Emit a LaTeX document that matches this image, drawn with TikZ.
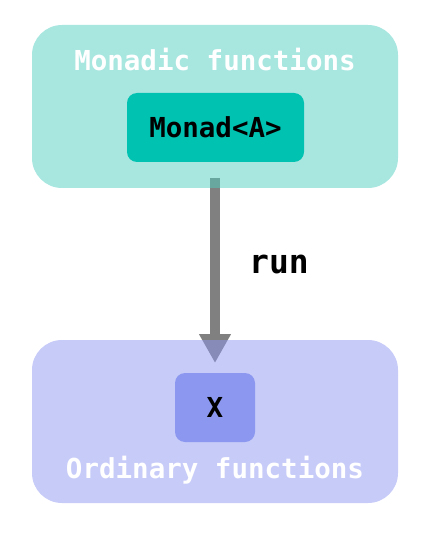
\documentclass[tikz,border=0pt]{standalone}
\usepackage{fontspec}
\setmonofont{DejaVu Sans Mono}
\usetikzlibrary{arrows.meta}
\definecolor{tealdark}{RGB}{0,194,176}
\definecolor{tealbg}{RGB}{81,205,193}
\definecolor{lavdark}{RGB}{140,152,240}
\definecolor{lavbg}{RGB}{143,151,241}
\definecolor{arrowgray}{RGB}{128,128,128}
\tikzset{
  container/.style={rounded corners=30pt, fill opacity=0.5, draw=none, inner sep=0pt},
  innerbox/.style={rounded corners=10pt, draw=none, inner sep=0pt, font=\ttfamily\bfseries\fontsize{27.5}{30}\selectfont, text=black},
  title/.style={font=\ttfamily\bfseries\fontsize{27.5}{30}\selectfont, text=white, inner sep=0pt},
  runarrow/.style={draw=arrowgray, line width=10pt, -{Triangle[width=30pt,length=29pt]}},
  lbl/.style={font=\ttfamily\bfseries\fontsize{33}{36}\selectfont, text=black, inner sep=0pt}
}
\begin{document}
\begin{tikzpicture}[x=1pt,y=-1pt]
\useasboundingbox (0,0) rectangle (434,537);
% arrow drawn beneath the translucent containers
\coordinate (start) at (215,178);
\coordinate (tip) at (215,363);
\draw[runarrow] (start) -- (tip);
\node[lbl, anchor=west] (run) at (249,264) {run};
% containers
\node[container, fill=tealbg, minimum width=366pt, minimum height=163pt] (topc) at (215,106.5) {};
\node[container, fill=lavbg, minimum width=366pt, minimum height=163pt] (botc) at (215,421.5) {};
% inner boxes
\node[innerbox, fill=tealdark, minimum width=177pt, minimum height=69pt] (monad) at (215.5,127.5) {Monad<A>};
\node[innerbox, fill=lavdark, minimum width=80pt, minimum height=69pt] (x) at (215,407.5) {X};
% titles
\node[title] (mtitle) at (215,60) {Monadic functions};
\node[title] (otitle) at (215,470) {Ordinary functions};
\end{tikzpicture}
\end{document}
